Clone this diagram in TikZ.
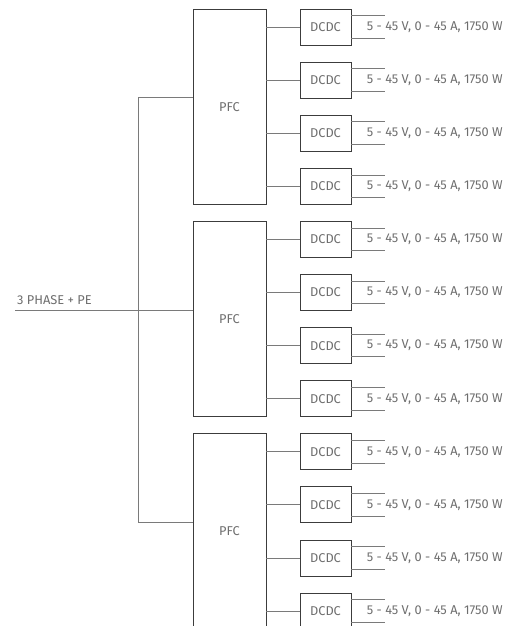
\documentclass[tikz,border=0pt]{standalone}
\usepackage{fontspec}
\setmainfont{Fira Sans}
\usetikzlibrary{positioning,calc}
\definecolor{pline}{HTML}{3C3C3C}
\definecolor{pwire}{HTML}{7A7A7A}
\definecolor{ptext}{HTML}{6E6E6E}
\tikzset{
  pfcbox/.style={draw=pline,line width=0.9pt,minimum width=73pt,minimum height=195.3pt,inner sep=0pt,font=\fontsize{12.8}{14}\selectfont,text=ptext},
  dcbox/.style={draw=pline,line width=0.9pt,minimum width=51pt,minimum height=36pt,inner sep=0pt,font=\fontsize{12.8}{14}\selectfont,text=ptext},
  wire/.style={draw=pwire,line width=0.9pt},
  lbl/.style={font=\fontsize{12.8}{14}\selectfont,text=ptext,inner sep=0pt,anchor=west},
}
\begin{document}
\begin{tikzpicture}[x=1pt,y=-1pt]
  \useasboundingbox (0,0) rectangle (519,626);
  \clip (0,0) rectangle (519,626);
  % input and bus
  \node[lbl] (in) at (17,300) {3 PHASE + PE};
  \coordinate (src) at (15,310.6);
  \coordinate (bustop) at (138,97.6);
  \coordinate (busbot) at (138,522.4);
  \draw[wire] (bustop) -- (busbot);
  % power factor stages
  \foreach \g in {1,2,3} {
    \node[pfcbox] (pfc\g) at (229.5,{106.65+212.4*(\g-1)}) {PFC};
    \coordinate (tap\g) at ([yshift=9pt]pfc\g.west);
    \draw[wire] (tap\g) -- (bustop |- tap\g);
  }
  \draw[wire] (src) -- (bustop |- src);
  % converters
  \foreach \k in {1,...,12} {
    \pgfmathtruncatemacro{\g}{int((\k-1)/4)+1}
    \node[dcbox] (dc\k) at (325.5,{27+53.1*(\k-1)}) {DCDC};
    \draw[wire] (pfc\g.east |- dc\k) -- (dc\k.west);
    \draw[wire] ([yshift=11.3pt]dc\k.east) -- +(34,0);
    \draw[wire] ([yshift=-11.3pt]dc\k.east) -- +(34,0);
    \node[lbl] (out\k) at (366.7,{27+53.1*(\k-1)}) {5 - 45 V, 0 - 45 A, 1750 W};
  }
\end{tikzpicture}
\end{document}
